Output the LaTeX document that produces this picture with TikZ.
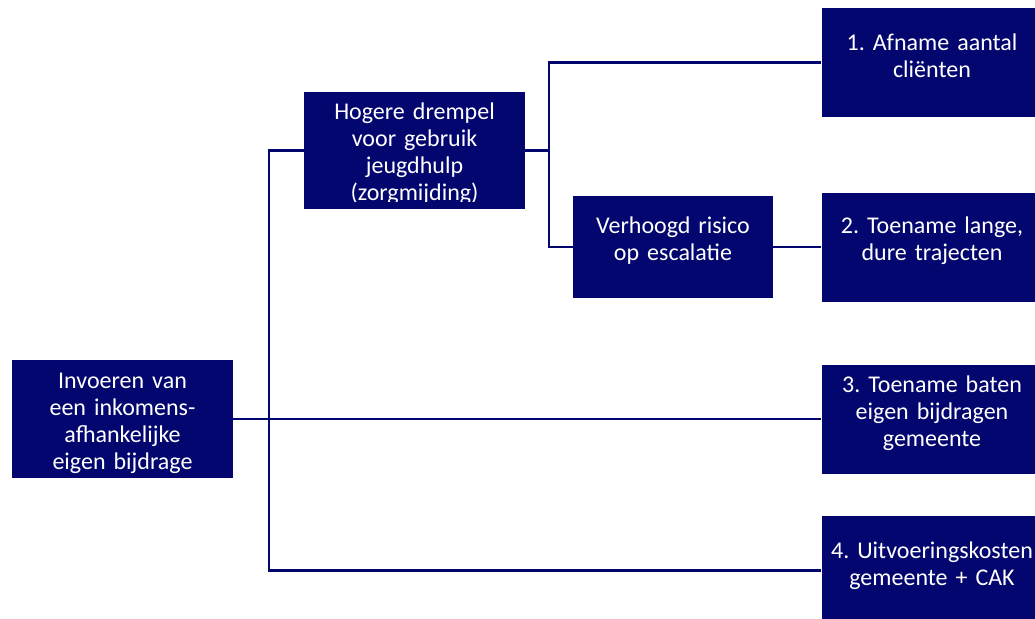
\documentclass[tikz,border=0pt]{standalone}
\usepackage{fontspec}
\setmainfont{Carlito}
\frenchspacing
\definecolor{cnavy}{HTML}{03066E}
\newcommand{\boxfont}{\fontsize{18pt}{20.25pt}\selectfont}

\begin{document}
\begin{tikzpicture}[
    x=0.75pt, y=-0.75pt,
    box/.style={fill=cnavy, text=white, font=\boxfont, align=center, inner sep=0pt,
        minimum width=165.75pt, minimum height=81.75pt, text width=162pt, text height=13.5pt},
    link/.style={cnavy, line width=1.6pt},
]
\useasboundingbox (0,0) rectangle (1035,618);

% Boxes (centres in px)
\node[box, minimum height=88.5pt, text depth=60pt] (invoeren) at (122.5,419)
    {Invoeren van\\een inkomens-\\afhankelijke\\eigen bijdrage};
\node[box, minimum height=87.75pt, text depth=60.75pt] (drempel) at (414.5,150.5)
    {Hogere drempel\\voor gebruik\\jeugdhulp\\(zorgmijding)};
\node[box, minimum width=150pt, minimum height=76.5pt, text width=146pt, text depth=34.5pt] (escalatie) at (673,247)
    {Verhoogd risico\\op escalatie};

% --- Effects ---
\node[box, text depth=32.25pt] (afname) at (932,62.5) {1. Afname aantal\\cliënten};
\node[box, text depth=35.25pt] (trajecten) at (932,247.5) {2. Toename lange,\\dure trajecten};
\node[box, text depth=54pt] (baten) at (932,419.5) {3. Toename baten\\eigen bijdragen\\gemeente};
\node[box, text depth=31.5pt] (kosten) at (932,570.5) {4. Uitvoeringskosten\\gemeente + CAK};

% text of the drempel box is cut off at the bottom
\fill[cnavy] ([yshift=5.25pt]drempel.south west) rectangle (drempel.south east);

% Branch points
\coordinate (fork) at (269,419);
\coordinate (split) at (549,150.5);

% Connectors
\draw[link] (drempel.west) -| (fork) |- (kosten.west);
\draw[link] (invoeren.east) -- (invoeren.east -| baten.west);
\draw[link] (drempel.east) -- (split);
\draw[link] (afname.west) -| (split) |- (escalatie.west);
\draw[link] (escalatie.east) -- (escalatie.east -| trajecten.west);

\end{tikzpicture}
\end{document}
